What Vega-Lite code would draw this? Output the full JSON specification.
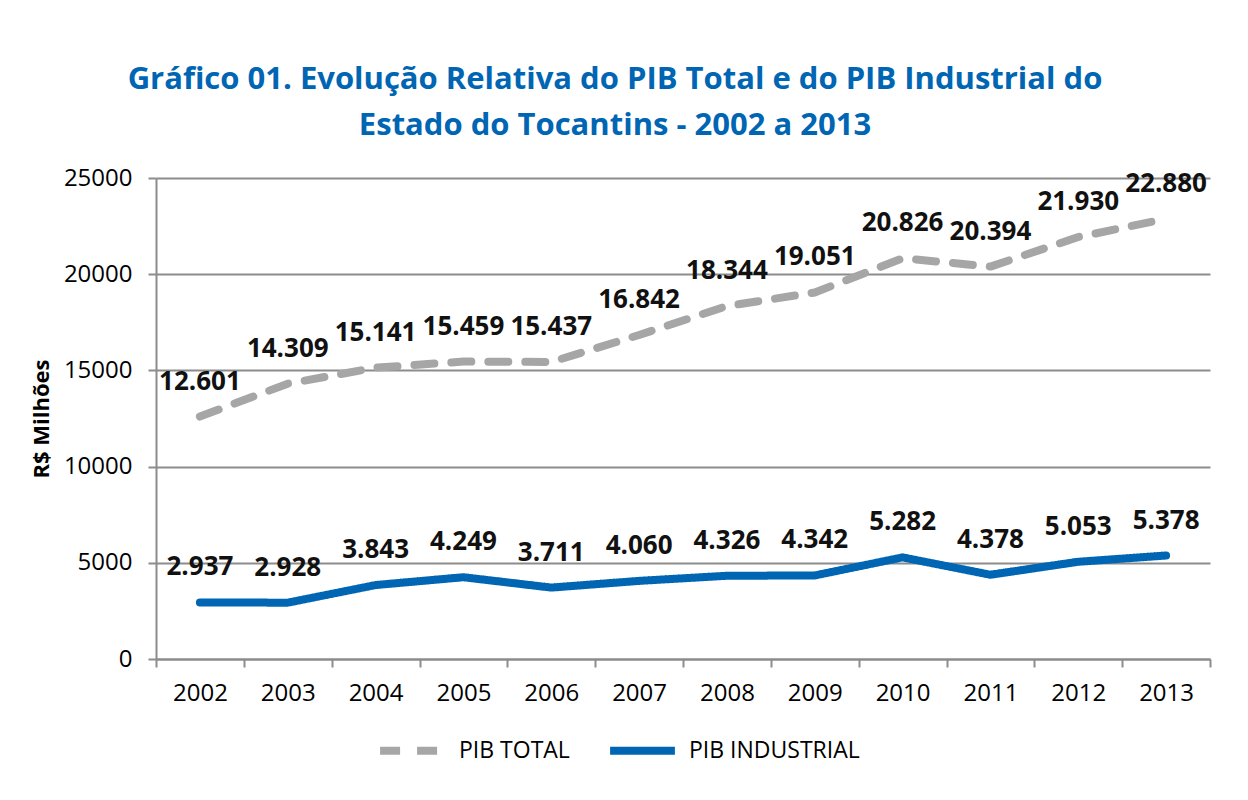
{
  "$schema": "https://vega.github.io/schema/vega-lite/v6.json",
  "width": 1054,
  "height": 481,
  "autosize": {"type": "none"},
  "padding": {"left": 156, "top": 178, "right": 38, "bottom": 141},
  "background": "white",
  "config": {
    "locale": {"number": {"decimal": ",", "thousands": ".", "grouping": [3], "currency": ["R$ ", ""]}},
    "font": "Open Sans",
    "view": {"stroke": null}
  },
  "title": {
    "text": ["Gráfico 01. Evolução Relativa do PIB Total e do PIB Industrial do", "Estado do Tocantins - 2002 a 2013"],
    "font": "Open Sans",
    "fontSize": 31,
    "fontWeight": "bold",
    "color": "#0066B3",
    "anchor": "middle",
    "frame": "group",
    "dx": -68,
    "lineHeight": 46,
    "offset": 24
  },
  "data": {
    "values": [
      {"serie": "PIB TOTAL", "ano": "2002", "valor": 12601},
      {"serie": "PIB TOTAL", "ano": "2003", "valor": 14309},
      {"serie": "PIB TOTAL", "ano": "2004", "valor": 15141},
      {"serie": "PIB TOTAL", "ano": "2005", "valor": 15459},
      {"serie": "PIB TOTAL", "ano": "2006", "valor": 15437},
      {"serie": "PIB TOTAL", "ano": "2007", "valor": 16842},
      {"serie": "PIB TOTAL", "ano": "2008", "valor": 18344},
      {"serie": "PIB TOTAL", "ano": "2009", "valor": 19051},
      {"serie": "PIB TOTAL", "ano": "2010", "valor": 20826},
      {"serie": "PIB TOTAL", "ano": "2011", "valor": 20394},
      {"serie": "PIB TOTAL", "ano": "2012", "valor": 21930},
      {"serie": "PIB TOTAL", "ano": "2013", "valor": 22880},
      {"serie": "PIB INDUSTRIAL", "ano": "2002", "valor": 2937},
      {"serie": "PIB INDUSTRIAL", "ano": "2003", "valor": 2928},
      {"serie": "PIB INDUSTRIAL", "ano": "2004", "valor": 3843},
      {"serie": "PIB INDUSTRIAL", "ano": "2005", "valor": 4249},
      {"serie": "PIB INDUSTRIAL", "ano": "2006", "valor": 3711},
      {"serie": "PIB INDUSTRIAL", "ano": "2007", "valor": 4060},
      {"serie": "PIB INDUSTRIAL", "ano": "2008", "valor": 4326},
      {"serie": "PIB INDUSTRIAL", "ano": "2009", "valor": 4342},
      {"serie": "PIB INDUSTRIAL", "ano": "2010", "valor": 5282},
      {"serie": "PIB INDUSTRIAL", "ano": "2011", "valor": 4378},
      {"serie": "PIB INDUSTRIAL", "ano": "2012", "valor": 5053},
      {"serie": "PIB INDUSTRIAL", "ano": "2013", "valor": 5378}
    ]
  },
  "encoding": {
    "x": {
      "field": "ano",
      "type": "ordinal",
      "bandPosition": 0.5,
      "scale": {"type": "band", "paddingInner": 0, "paddingOuter": 0},
      "axis": {
        "title": null,
        "labelAngle": 0,
        "labelFont": "Open Sans",
        "labelFontSize": 24,
        "labelColor": "#000000",
        "labelPadding": 14,
        "tickBand": "extent",
        "tickSize": 8,
        "tickWidth": 2,
        "tickColor": "#8C8C8C",
        "domainColor": "#8C8C8C",
        "domainWidth": 2,
        "grid": false
      }
    },
    "y": {
      "field": "valor",
      "type": "quantitative",
      "scale": {"domain": [0, 25000], "nice": false},
      "axis": {
        "title": "R$ Milhões",
        "titleFont": "Open Sans",
        "titleFontSize": 22,
        "titleFontWeight": "bold",
        "titleColor": "#000000",
        "titlePadding": 10,
        "values": [0, 5000, 10000, 15000, 20000, 25000],
        "format": "d",
        "labelFont": "Open Sans",
        "labelFontSize": 24,
        "labelColor": "#000000",
        "labelPadding": 16,
        "tickSize": 8,
        "tickWidth": 2,
        "tickColor": "#8C8C8C",
        "domainColor": "#8C8C8C",
        "domainWidth": 2,
        "grid": true,
        "gridColor": "#8C8C8C",
        "gridWidth": 2
      }
    }
  },
  "layer": [
    {
      "mark": {"type": "line", "strokeWidth": 8, "strokeCap": "round", "strokeJoin": "round"},
      "encoding": {
        "color": {
          "field": "serie",
          "type": "nominal",
          "scale": {"domain": ["PIB TOTAL", "PIB INDUSTRIAL"], "range": ["#A6A6A6", "#0066B3"]},
          "legend": {
            "title": null,
            "orient": "none",
            "legendX": 220,
            "legendY": 536,
            "direction": "horizontal",
            "symbolType": "stroke",
            "symbolSize": 4200,
            "symbolStrokeWidth": 8,
            "labelFont": "Open Sans",
            "labelFontSize": 23,
            "labelColor": "#000000",
            "labelLimit": 400,
            "labelOffset": 10,
            "columnPadding": 24
          }
        },
        "strokeDash": {
          "field": "serie",
          "type": "nominal",
          "scale": {"domain": ["PIB TOTAL", "PIB INDUSTRIAL"], "range": [[20, 17], [1, 0]]},
          "legend": null
        }
      }
    },
    {
      "mark": {"type": "text", "dy": -35, "fontSize": 26, "fontWeight": "bold", "font": "Open Sans", "color": "#111111", "baseline": "middle", "align": "center"},
      "encoding": {
        "text": {"field": "valor", "type": "quantitative", "format": ",d"}
      }
    }
  ]
}
